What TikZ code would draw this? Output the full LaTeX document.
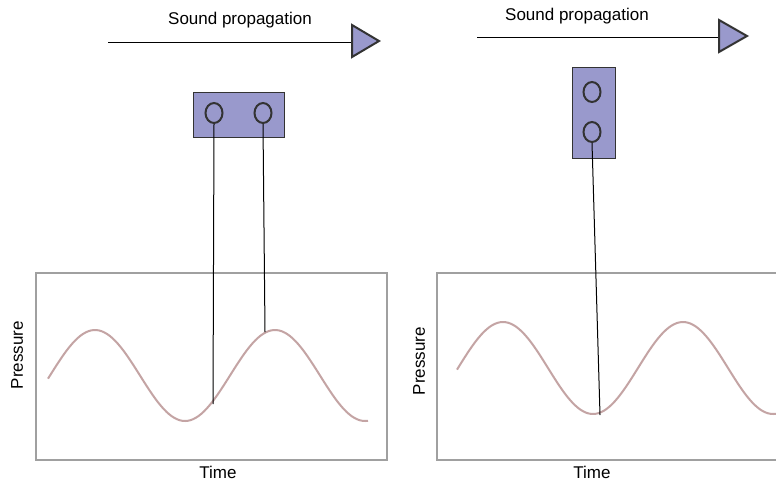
\documentclass[tikz,border=0pt]{standalone}
\usepackage{fontspec}
\setmainfont{Liberation Sans}
\usetikzlibrary{shapes.geometric}
\definecolor{lav}{HTML}{9999CC}
\definecolor{dk}{HTML}{333333}
\definecolor{frame}{HTML}{A0A0A0}
\definecolor{wave}{HTML}{C4A4A4}
\tikzset{
  lbl/.style={font=\fontsize{17}{20}\selectfont, inner sep=0pt},
  micbox/.style={draw=dk, fill=lav, line width=0.8pt, inner sep=0pt},
  mic/.style={ellipse, draw=dk, line width=2pt, minimum width=17pt, minimum height=20pt, inner sep=0pt},
  graphbox/.style={draw=frame, line width=2.5pt},
  wire/.style={line width=1pt, black},
  propline/.style={line width=1pt, black},
  tri/.style={draw=dk, fill=lav, line width=2pt, line join=miter},
  wavestyle/.style={wave, line width=2pt}
}
\begin{document}
\begin{tikzpicture}[x=1pt,y=-1pt]
\useasboundingbox (0,0) rectangle (776,485);
\fill[white] (0,0) rectangle (776,485);
\begin{scope}
\clip (0,0) rectangle (776,485);
% graph frames
\draw[graphbox] (36,273) rectangle (387,460);
\draw[graphbox] (437,273) rectangle (790,460);
% waves
\draw[wavestyle] plot[domain=48:368, samples=120, smooth] (\x, {375.5 - 45.5*cos(2*(\x-95))});
\draw[wavestyle] plot[domain=457:776, samples=120, smooth] (\x, {368 - 46*cos(2*(\x-503))});
\end{scope}
% curve points
\coordinate (cL1) at (213,404);
\coordinate (cL2) at (265,332);
\coordinate (cR) at (600,415);
% propagation arrows
\node[lbl] (tL) at (240,20) {Sound propagation};
\node[lbl] (tR) at (577,16) {Sound propagation};
\coordinate (aL0) at (108,42);
\coordinate (aL1) at (352,42);
\coordinate (aR0) at (477,37);
\coordinate (aR1) at (719,37);
\draw[propline] (aL0) -- (aL1);
\draw[propline] (aR0) -- (aR1);
\draw[tri] (352,25) -- (379,41) -- (352,57) -- cycle;
\draw[tri] (719,20) -- (747,36) -- (719,52) -- cycle;
% mic boxes
\node[micbox, minimum width=91pt, minimum height=45pt] (bL) at (238.5,114.5) {};
\node[micbox, minimum width=43pt, minimum height=91pt] (bR) at (593.5,112.5) {};
\node[mic] (mL1) at (214,113) {};
\node[mic] (mL2) at (263,113) {};
\node[mic] (mR1) at (592,92) {};
\node[mic] (mR2) at (592,132) {};
% wires
\draw[wire] (mL1.south) -- (cL1);
\draw[wire] (mL2.south) -- (cL2);
\draw[wire] (mR2.south) -- (cR);
% axis labels
\node[lbl, rotate=90] (pL) at (17,355) {Pressure};
\node[lbl, rotate=90] (pR) at (419,361) {Pressure};
\node[lbl] (xL) at (218,472) {Time};
\node[lbl] (xR) at (592,472) {Time};
\end{tikzpicture}
\end{document}
